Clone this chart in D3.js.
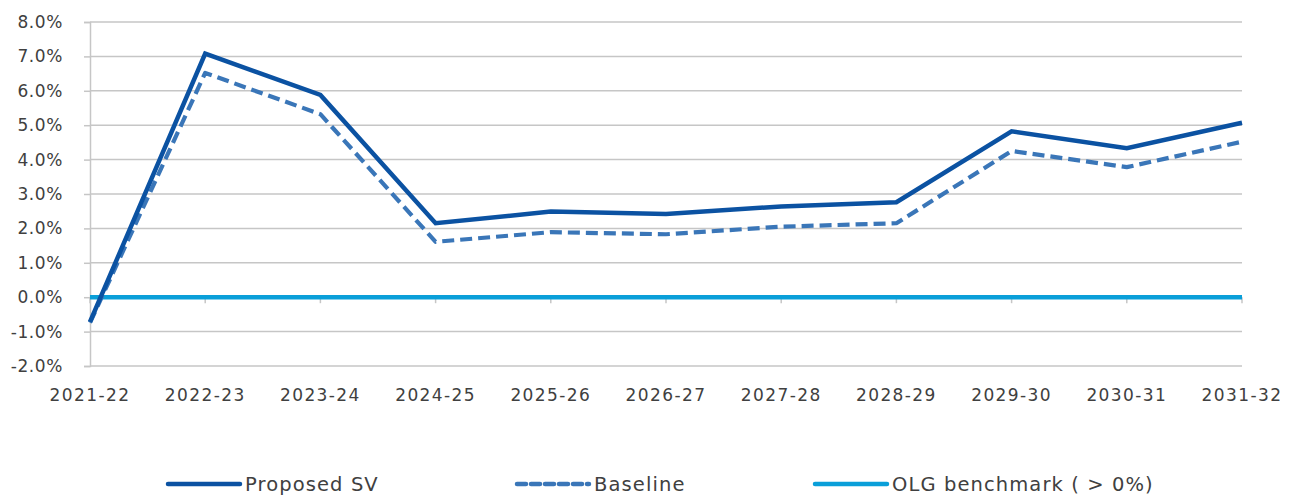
<!DOCTYPE html>
<html>
<head>
<meta charset="utf-8">
<script src="https://cdn.jsdelivr.net/npm/d3@7"></script>
<style>
  html, body { margin: 0; padding: 0; background: #ffffff; }
  svg { display: block; }
  text { font-family: "DejaVu Sans", "Open Sans", sans-serif; fill: #404040; }
</style>
</head>
<body>
<svg id="chart" width="1301" height="498"></svg>
<script>
// Financial years on the x axis
const categories = ["2021-22", "2022-23", "2023-24", "2024-25", "2025-26", "2026-27",
                    "2027-28", "2028-29", "2029-30", "2030-31", "2031-32"];

// Operating performance ratio, in percent
const proposedSV = [-0.72, 7.08, 5.88, 2.15, 2.49, 2.42, 2.64, 2.76, 4.82, 4.33, 5.07];
const baseline   = [-0.74, 6.52, 5.32, 1.61, 1.89, 1.83, 2.05, 2.15, 4.25, 3.78, 4.52];
const olgBenchmark = [0, 0, 0, 0, 0, 0, 0, 0, 0, 0, 0];

// Y axis ticks
const yTicks = [-2, -1, 0, 1, 2, 3, 4, 5, 6, 7, 8];

const seriesNames = ["Proposed SV", "Baseline", "OLG benchmark ( > 0%)"];

const svg = d3.select("#chart");
const margin = { left: 90, right: 59, top: 22, bottom: 132 };
const W = 1301, H = 498;

const x = d3.scalePoint().domain(categories).range([margin.left, W - margin.right]);
const y = d3.scaleLinear().domain([-2, 8]).range([H - margin.bottom, margin.top]);

// Horizontal gridlines
svg.append("g")
  .selectAll("line")
  .data(yTicks)
  .join("line")
  .attr("x1", margin.left).attr("x2", W - margin.right)
  .attr("y1", d => y(d)).attr("y2", d => y(d))
  .attr("stroke", "#c6c6c6").attr("stroke-width", 1.5);

// Y axis
const yAxis = svg.append("g")
  .attr("transform", `translate(${margin.left},0)`)
  .call(d3.axisLeft(y).tickValues(yTicks).tickSize(6).tickPadding(21)
        .tickFormat(d => d.toFixed(1) + "%"));
yAxis.select(".domain").attr("stroke", "#c6c6c6").attr("stroke-width", 1.5);
yAxis.selectAll(".tick line").attr("stroke", "#c6c6c6").attr("stroke-width", 1.5);
yAxis.selectAll(".tick text")
  .attr("font-size", 17)
  .attr("fill", "#404040")
  .style("letter-spacing", "0.6px")
  .style("font-family", "\"DejaVu Sans\", sans-serif");

// X axis ticks sit on the zero line; labels below the plot
const xTickG = svg.append("g");
xTickG.selectAll("line")
  .data(categories)
  .join("line")
  .attr("x1", d => x(d)).attr("x2", d => x(d))
  .attr("y1", y(0)).attr("y2", y(0) + 6)
  .attr("stroke", "#c6c6c6").attr("stroke-width", 1.5);
xTickG.selectAll("text")
  .data(categories)
  .join("text")
  .attr("x", d => x(d))
  .attr("y", H - margin.bottom + 35)
  .attr("text-anchor", "middle")
  .attr("font-size", 17)
  .style("letter-spacing", "1.4px")
  .text(d => d);

const line = d3.line()
  .x((d, i) => x(categories[i]))
  .y(d => y(d));

// OLG benchmark
svg.append("path")
  .datum(olgBenchmark)
  .attr("d", line)
  .attr("fill", "none")
  .attr("stroke", "#0a9fd9")
  .attr("stroke-width", 4.5);

// Baseline (dashed)
svg.append("path")
  .datum(baseline)
  .attr("d", line)
  .attr("fill", "none")
  .attr("stroke", "#3a76b8")
  .attr("stroke-width", 4.2)
  .attr("stroke-dasharray", "12,6")
  .attr("stroke-linejoin", "round");

// Proposed SV
svg.append("path")
  .datum(proposedSV)
  .attr("d", line)
  .attr("fill", "none")
  .attr("stroke", "#0b52a2")
  .attr("stroke-width", 4.5)
  .attr("stroke-linejoin", "miter");

// Legend
const legendItems = [
  { name: seriesNames[0], color: "#0b52a2", dash: null, x0: 168 },
  { name: seriesNames[1], color: "#3a76b8", dash: "9,5", x0: 517 },
  { name: seriesNames[2], color: "#0a9fd9", dash: null, x0: 815 }
];
const legendY = 484;
const lg = svg.append("g").selectAll("g").data(legendItems).join("g");
lg.append("line")
  .attr("x1", d => d.x0).attr("x2", d => d.x0 + 72)
  .attr("y1", legendY).attr("y2", legendY)
  .attr("stroke", d => d.color)
  .attr("stroke-width", 4.5)
  .attr("stroke-linecap", "round")
  .attr("stroke-dasharray", d => d.dash);
lg.append("text")
  .attr("x", d => d.x0 + 77)
  .attr("y", legendY + 7)
  .attr("font-size", 19.5)
  .style("letter-spacing", "1.1px")
  .text(d => d.name);
</script>
</body>
</html>
